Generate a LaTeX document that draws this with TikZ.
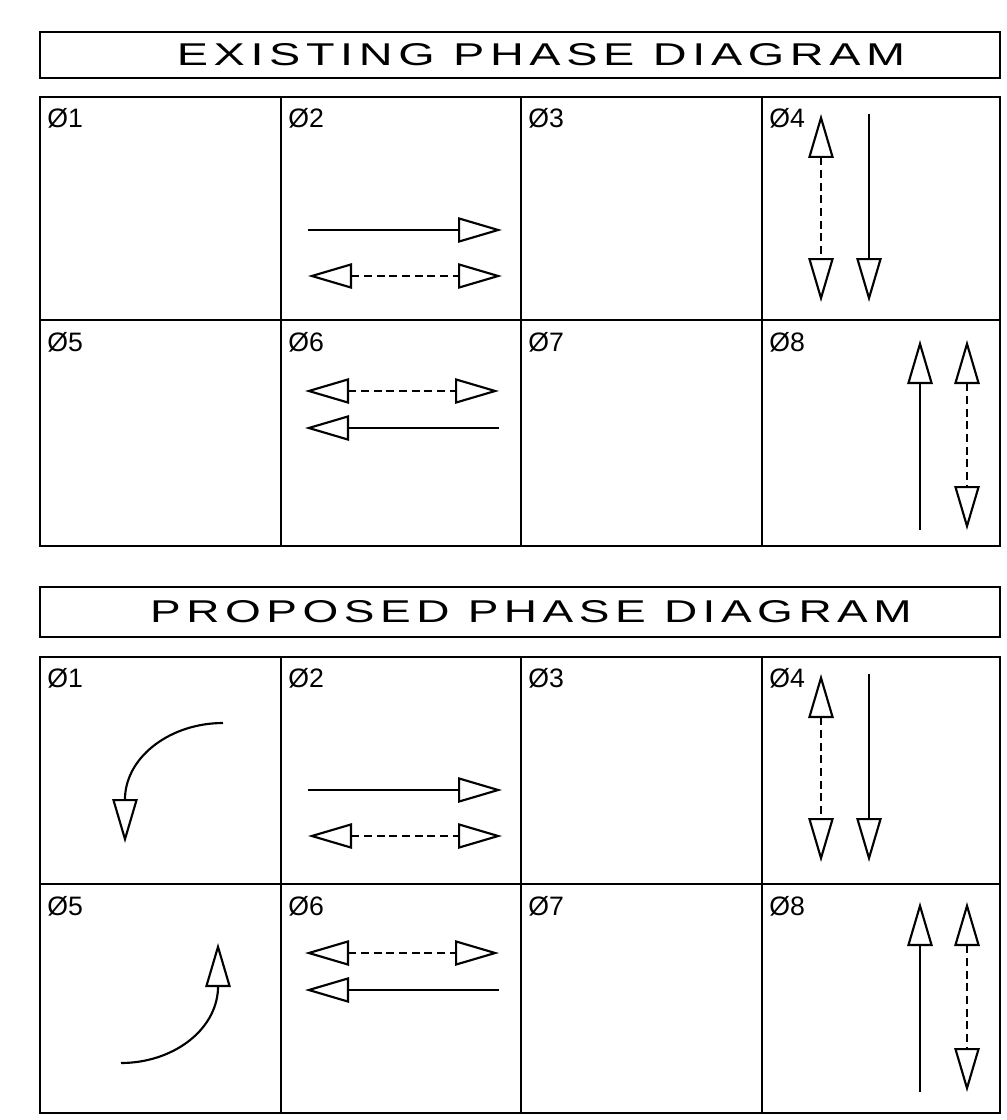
\documentclass[tikz,border=0pt]{standalone}
\usepackage{fontspec}
\setmainfont{Liberation Sans}
\usetikzlibrary{arrows.meta}

\tikzset{
  phtip/.tip={Triangle[open,length=33pt,width=19pt]},
  frame/.style={line width=2pt},
  flow/.style={line width=1.6pt},
  pedflow/.style={line width=1.6pt,dash pattern=on 6pt off 3.5pt},
  celllabel/.style={anchor=north west,inner sep=0.75pt,font=\fontsize{20}{20}\selectfont},
}

\begin{document}
\begin{tikzpicture}[x=0.75pt,y=0.75pt,yscale=-1,xscale=1]
  \useasboundingbox (0,0) rectangle (1006,1120);

  %Shape: Rectangle [title existing]
  \draw [frame] (40,32) rectangle (1000,78) ;
  % Text Node
  \node (tit1) at (541,55) {\resizebox{546pt}{16.5pt}{\addfontfeature{LetterSpace=12}EXISTING PHASE DIAGRAM}};

  %Shape: Grid [existing]
  \draw [frame] (40,97) rectangle (1000,546) ;
  \draw [frame] (40,320) -- (1000,320) ;
  \draw [frame] (281,97) -- (281,546) ;
  \draw [frame] (521,97) -- (521,546) ;
  \draw [frame] (762,97) -- (762,546) ;

  % Text Node
  \node [celllabel] (e1) at (46,107) {Ø1};
  \node [celllabel] (e2) at (287,107) {Ø2};
  \node [celllabel] (e3) at (527,107) {Ø3};
  \node [celllabel] (e4) at (768,107) {Ø4};
  \node [celllabel] (e5) at (46,331) {Ø5};
  \node [celllabel] (e6) at (287,331) {Ø6};
  \node [celllabel] (e7) at (527,331) {Ø7};
  \node [celllabel] (e8) at (768,331) {Ø8};

  %Arrows [existing phase 2]
  \coordinate (e2sa) at (308,230) ; \coordinate (e2sb) at (502,230) ;
  \coordinate (e2da) at (308,276) ; \coordinate (e2db) at (502,276) ;
  \draw [flow,-phtip] (e2sa) -- (e2sb) ;
  \draw [pedflow,phtip-phtip] (e2da) -- (e2db) ;
  %Arrows [existing phase 4]
  \coordinate (e4da) at (821,114) ; \coordinate (e4db) at (821,302) ;
  \coordinate (e4sa) at (869,114) ; \coordinate (e4sb) at (869,302) ;
  \draw [pedflow,phtip-phtip] (e4da) -- (e4db) ;
  \draw [flow,-phtip] (e4sa) -- (e4sb) ;
  %Arrows [existing phase 6]
  \coordinate (e6da) at (305,391) ; \coordinate (e6db) at (499,391) ;
  \coordinate (e6sa) at (499,428) ; \coordinate (e6sb) at (305,428) ;
  \draw [pedflow,phtip-phtip] (e6da) -- (e6db) ;
  \draw [flow,-phtip] (e6sa) -- (e6sb) ;
  %Arrows [existing phase 8]
  \coordinate (e8sa) at (920,530) ; \coordinate (e8sb) at (920,340) ;
  \coordinate (e8da) at (967,340) ; \coordinate (e8db) at (967,530) ;
  \draw [flow,-phtip] (e8sa) -- (e8sb) ;
  \draw [pedflow,phtip-phtip] (e8da) -- (e8db) ;

  %Shape: Rectangle [title proposed]
  \draw [frame] (40,587) rectangle (1000,637) ;
  % Text Node
  \node (tit2) at (531,612) {\resizebox{571pt}{16.5pt}{\addfontfeature{LetterSpace=12}PROPOSED PHASE DIAGRAM}};

  %Shape: Grid [proposed]
  \draw [frame] (40,657) rectangle (1000,1113) ;
  \draw [frame] (40,884) -- (1000,884) ;
  \draw [frame] (281,657) -- (281,1113) ;
  \draw [frame] (521,657) -- (521,1113) ;
  \draw [frame] (762,657) -- (762,1113) ;

  % Text Node
  \node [celllabel] (p1) at (46,667) {Ø1};
  \node [celllabel] (p2) at (287,667) {Ø2};
  \node [celllabel] (p3) at (527,667) {Ø3};
  \node [celllabel] (p4) at (768,667) {Ø4};
  \node [celllabel] (p5) at (46,895) {Ø5};
  \node [celllabel] (p6) at (287,895) {Ø6};
  \node [celllabel] (p7) at (527,895) {Ø7};
  \node [celllabel] (p8) at (768,895) {Ø8};

  %Curve [proposed phase 1]
  \coordinate (p1a) at (223,723) ; \coordinate (p1b) at (125,843) ;
  \draw [flow,-phtip] (p1a) .. controls (172,723) and (127,755) .. (125,797) -- (p1b) ;
  %Arrows [proposed phase 2]
  \coordinate (p2sa) at (308,790) ; \coordinate (p2sb) at (502,790) ;
  \coordinate (p2da) at (308,836) ; \coordinate (p2db) at (502,836) ;
  \draw [flow,-phtip] (p2sa) -- (p2sb) ;
  \draw [pedflow,phtip-phtip] (p2da) -- (p2db) ;
  %Arrows [proposed phase 4]
  \coordinate (p4da) at (821,674) ; \coordinate (p4db) at (821,862) ;
  \coordinate (p4sa) at (869,674) ; \coordinate (p4sb) at (869,862) ;
  \draw [pedflow,phtip-phtip] (p4da) -- (p4db) ;
  \draw [flow,-phtip] (p4sa) -- (p4sb) ;
  %Curve [proposed phase 5]
  \coordinate (p5a) at (121,1063) ; \coordinate (p5b) at (218,943) ;
  \draw [flow,-phtip] (p5a) .. controls (172,1063) and (216,1031) .. (218,989) -- (p5b) ;
  %Arrows [proposed phase 6]
  \coordinate (p6da) at (305,953) ; \coordinate (p6db) at (499,953) ;
  \coordinate (p6sa) at (499,990) ; \coordinate (p6sb) at (305,990) ;
  \draw [pedflow,phtip-phtip] (p6da) -- (p6db) ;
  \draw [flow,-phtip] (p6sa) -- (p6sb) ;
  %Arrows [proposed phase 8]
  \coordinate (p8sa) at (920,1092) ; \coordinate (p8sb) at (920,902) ;
  \coordinate (p8da) at (967,902) ; \coordinate (p8db) at (967,1092) ;
  \draw [flow,-phtip] (p8sa) -- (p8sb) ;
  \draw [pedflow,phtip-phtip] (p8da) -- (p8db) ;

\end{tikzpicture}
\end{document}
